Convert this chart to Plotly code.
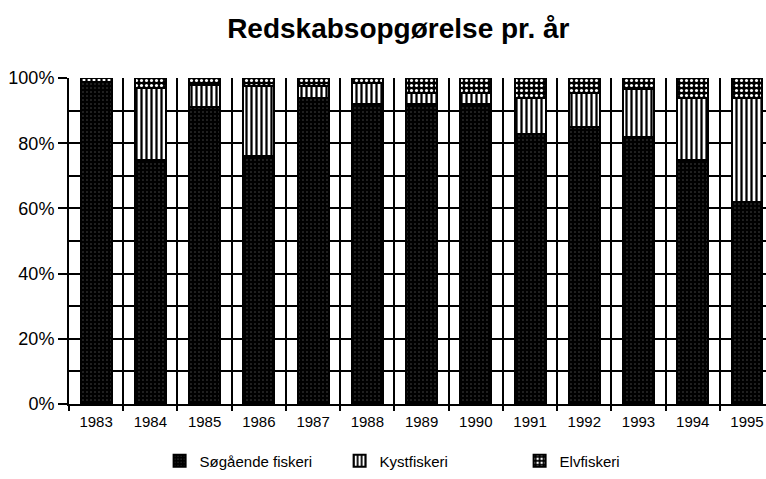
import plotly.graph_objects as go

# Gear census per year, share of each fishery (percent)
years = ["1983", "1984", "1985", "1986", "1987", "1988", "1989",
         "1990", "1991", "1992", "1993", "1994", "1995"]
soegaaende = [98.8, 75.0, 91.0, 76.0, 94.0, 92.0, 92.0, 92.0, 82.8, 85.0, 82.0, 75.0, 62.0]
kystfiskeri = [1.2, 22.0, 7.0, 21.5, 3.5, 6.5, 3.5, 3.5, 11.2, 10.5, 14.5, 19.0, 32.0]
elvfiskeri = [0.0, 3.0, 2.0, 2.5, 2.5, 1.5, 4.5, 4.5, 6.0, 4.5, 3.5, 6.0, 6.0]

series = [
    ("Søgående fiskeri", soegaaende,
     dict(shape=".", fgcolor="#4a4a4a", bgcolor="black", size=4, solidity=0.12, fillmode="replace")),
    ("Kystfiskeri", kystfiskeri,
     dict(shape="|", fgcolor="black", bgcolor="white", size=5, solidity=0.45, fillmode="replace")),
    ("Elvfiskeri", elvfiskeri,
     dict(shape=".", fgcolor="white", bgcolor="black", size=5, solidity=0.3, fillmode="replace")),
]

fig = go.Figure()
for name, vals, pattern in series:
    fig.add_trace(go.Bar(
        x=years, y=[v / 100 for v in vals], name=name,
        marker=dict(color="black", pattern=pattern, line=dict(color="black", width=2)),
    ))

fig.update_layout(
    barmode="stack",
    bargap=0.43,
    width=766, height=479,
    margin=dict(l=69, r=0, t=78, b=75),
    paper_bgcolor="white", plot_bgcolor="white",
    font=dict(family="Liberation Sans, Arial, sans-serif", color="black"),
    title=dict(text="<b>Redskabsopgørelse pr. år</b>", x=0.52, xanchor="center",
               y=1 - 28 / 479, yanchor="middle", font=dict(size=28, color="black")),
    legend=dict(orientation="h", x=0.13, xanchor="left", y=-0.175, yanchor="middle",
                entrywidth=135, entrywidthmode="pixels",
                font=dict(size=15, color="black"), traceorder="normal"),
    showlegend=True,
)

fig.update_xaxes(
    type="category", range=[-0.5, 12.35], tickson="boundaries",
    showgrid=True, gridcolor="black", gridwidth=2,
    showline=True, linecolor="black", linewidth=2,
    ticks="outside", ticklen=5, tickwidth=2, tickcolor="black",
    tickfont=dict(size=15, color="black"), ticklabelstandoff=3,
)
fig.update_yaxes(
    range=[0, 1], tickvals=[0, 0.2, 0.4, 0.6, 0.8, 1.0], tickformat=".0%",
    showgrid=True, gridcolor="black", gridwidth=2,
    minor=dict(dtick=0.1, showgrid=True, gridcolor="black", gridwidth=2),
    showline=True, linecolor="black", linewidth=2,
    ticks="outside", ticklen=9, tickwidth=2, tickcolor="black",
    tickfont=dict(size=18, color="black"),
    zeroline=False,
)

fig.write_html("out.html")
